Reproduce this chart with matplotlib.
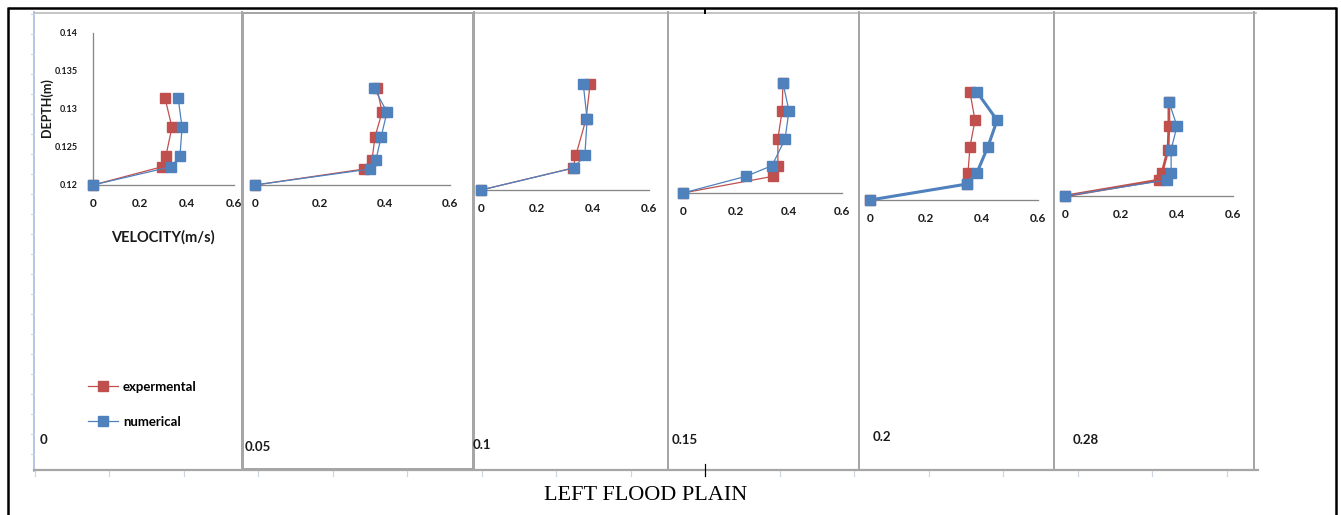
import matplotlib
matplotlib.use('Agg')
import matplotlib.pyplot as plt
from matplotlib.lines import Line2D
from matplotlib.patches import Rectangle

# ---------------- data ----------------
panel_labels = ['0', '0.05', '0.1', '0.15', '0.2', '0.28']
series_names = ['expermental', 'numerical']
velocity_ticks = [0, 0.2, 0.4, 0.6]
velocity_tick_labels = ['0', '0.2', '0.4', '0.6']
depth_ticks = [0.12, 0.125, 0.13, 0.135, 0.14]
depth_tick_labels = ['0.12', '0.125', '0.13', '0.135', '0.14']

depth_0 = [0.12, 0.1224, 0.1238, 0.1276, 0.1315]
exp_0 = [0, 0.294, 0.310, 0.336, 0.306]
num_0 = [0, 0.332, 0.370, 0.379, 0.362]

depth_05 = [0.12, 0.1221, 0.1233, 0.1263, 0.1296, 0.1328]
exp_05 = [0, 0.335, 0.360, 0.369, 0.391, 0.375]
num_05 = [0, 0.354, 0.372, 0.388, 0.406, 0.366]

depth_10 = [0.12, 0.1229, 0.1246, 0.1293, 0.1340]
exp_10 = [0, 0.329, 0.339, 0.375, 0.390]
num_10 = [0, 0.332, 0.371, 0.379, 0.365]

depth_15 = [0.12, 0.1222, 0.1236, 0.1271, 0.1308, 0.1345]
exp_15 = [0, 0.340, 0.358, 0.358, 0.374, 0.377]
num_15 = [0, 0.238, 0.336, 0.385, 0.400, 0.377]

depth_20 = [0.12, 0.1221, 0.1236, 0.1270, 0.1305, 0.1342]
exp_20 = [0, 0.346, 0.350, 0.357, 0.375, 0.357]
num_20 = [0, 0.346, 0.382, 0.421, 0.454, 0.382]

depth_28 = [0.12, 0.1221, 0.1230, 0.1261, 0.1292, 0.1324]
exp_28 = [0, 0.336, 0.346, 0.368, 0.371, 0.371]
num_28 = [0, 0.364, 0.379, 0.379, 0.400, 0.371]

depths = [depth_0, depth_05, depth_10, depth_15, depth_20, depth_28]
exps = [exp_0, exp_05, exp_10, exp_15, exp_20, exp_28]
nums = [num_0, num_05, num_10, num_15, num_20, num_28]

# ---------------- layout / style ----------------
W, H = 1341, 515
DPI = 100
RED = '#C0504D'
BLUE = '#4F81BD'
GRAY = '#A6A6A6'
AXGRAY = '#868686'
TXT = '#1a1a1a'
FONT = ['Lato', 'DejaVu Sans']

# (x of 0, x of 0.6, y of baseline) in pixels, per panel
panel_px = [(93, 234, 185), (255, 450, 185), (481, 649, 190),
            (683, 842, 193), (870, 1038, 200), (1065, 1233, 196)]
PANEL_H = 152
# line widths (pt) per panel: (experimental, numerical)
panel_lw = [(0.9, 0.9), (0.9, 0.9), (0.9, 0.9), (0.9, 0.9), (0.9, 2.2), (2.0, 0.9)]
label_px = [(40, 440), (245, 447), (473, 445), (672, 440), (873, 437), (1073, 440)]
separators = [242, 474, 668, 859, 1054, 1254]


def px(v):
    return v * 72.0 / DPI


def fx(x):
    return x / W


def fy(y):
    return 1 - y / H


fig = plt.figure(figsize=(W / DPI, H / DPI), dpi=DPI)
fig.patch.set_facecolor('white')

# background frame axes in pixel coordinates
bg = fig.add_axes([0, 0, 1, 1], zorder=0)
bg.set_xlim(0, W)
bg.set_ylim(H, 0)
bg.axis('off')

# outer black border
bg.plot([8, 1336], [8, 8], color='black', lw=px(2.5), solid_capstyle='butt')
bg.plot([8, 8], [7, 515], color='black', lw=px(2.5), solid_capstyle='butt')
bg.plot([1336, 1336], [7, 515], color='black', lw=px(2.5), solid_capstyle='butt')

# left light-blue axis with ticks
bg.plot([34, 34], [12, 471], color='#B4C7E7', lw=px(2))
for yy in range(14, 471, 20):
    bg.plot([31, 34], [yy, yy], color='#C5D3EA', lw=px(1))

# top light gray line
bg.plot([34, 1256], [12.5, 12.5], color='#BFBFBF', lw=px(1.8))
# bottom gray axis
bg.plot([34, 1258], [470, 470], color=GRAY, lw=px(2.2))
xx = 35.0
while xx < 1240:
    bg.plot([xx, xx], [471, 476], color='#CDD5E3', lw=px(1.2))
    xx += 74.5
bg.plot([705, 705], [464, 476], color='black', lw=px(1.2))
bg.plot([705, 705], [9, 13], color='black', lw=px(2))

# panel separators
for sx in separators:
    bg.plot([sx, sx], [12, 470], color=GRAY, lw=px(2))

# caption
bg.text(646, 495, 'LEFT FLOOD PLAIN', family=['Liberation Serif'], fontsize=16,
        ha='center', va='center', color='black')


def make_axes(i):
    x0, x6, base = panel_px[i]
    rect = [fx(x0), fy(base), (x6 - x0) / W, PANEL_H / H]
    ax = fig.add_axes(rect, zorder=1 if i == 0 else 3)
    ax.set_facecolor('none')
    return ax


axes = []
for i in range(6):
    if i == 1:
        # white box of the second panel that overlaps the first one's last label
        box = Rectangle((fx(243), fy(469)), (473 - 243) / W, (469 - 13) / H,
                        transform=fig.transFigure, facecolor='white',
                        edgecolor=GRAY, lw=px(2), zorder=2)
        fig.patches.append(box)
    ax = make_axes(i)
    axes.append(ax)
    ax.set_xlim(0, 0.6)
    ax.set_ylim(0.12, 0.14)
    lw_e, lw_n = panel_lw[i]
    ax.plot(exps[i], depths[i], color=RED, lw=lw_e, marker='s', markersize=7.8,
            markeredgecolor=RED, clip_on=False, zorder=3, label=series_names[0])
    ax.plot(nums[i], depths[i], color=BLUE, lw=lw_n, marker='s', markersize=7.8,
            markeredgecolor=BLUE, clip_on=False, zorder=4, label=series_names[1])
    for s in ['top', 'right']:
        ax.spines[s].set_visible(False)
    ax.spines['bottom'].set_color(AXGRAY)
    ax.spines['bottom'].set_linewidth(px(1.3))
    ax.set_xticks(velocity_ticks)
    ax.set_xticklabels(velocity_tick_labels, family=FONT, fontweight='bold',
                       fontsize=8.5)
    ax.tick_params(axis='x', length=0, pad=9.5, colors=TXT)
    if i == 0:
        ax.spines['left'].set_color(AXGRAY)
        ax.spines['left'].set_linewidth(px(1.3))
        ax.set_yticks(depth_ticks)
        ax.set_yticklabels(depth_tick_labels, family=FONT, fontweight='bold',
                           fontsize=6.5)
        ax.tick_params(axis='y', length=0, pad=11, colors=TXT)
    else:
        ax.spines['left'].set_visible(False)
        ax.set_yticks([])
    fig.text(fx(label_px[i][0]), fy(label_px[i][1]), panel_labels[i], family=FONT,
             fontweight='bold', fontsize=9.5, ha='left', va='center', color=TXT,
             zorder=10)

# axis titles of first panel
fig.text(fx(47), fy(108), 'DEPTH(m)', family=FONT, fontweight='bold', fontsize=9,
         rotation=90, ha='center', va='center', color=TXT, zorder=10)
fig.text(fx(163), fy(237), 'VELOCITY(m/s)', family=FONT, fontweight='bold',
         fontsize=10.5, ha='center', va='center', color=TXT, zorder=10)

# legend
handles = [Line2D([0], [0], color=RED, lw=0.9, marker='s', markersize=7.5),
           Line2D([0], [0], color=BLUE, lw=0.9, marker='s', markersize=7.5)]
leg = fig.legend(handles, series_names, loc='upper left',
                 bbox_to_anchor=(fx(88), fy(381)), frameon=False,
                 prop={'family': FONT, 'weight': 'bold', 'size': 9.5},
                 handlelength=2.3, handletextpad=0.35, labelspacing=1.75,
                 borderpad=0, borderaxespad=0)
leg.set_zorder(10)

fig.savefig('out.png', dpi=DPI, facecolor='white')
